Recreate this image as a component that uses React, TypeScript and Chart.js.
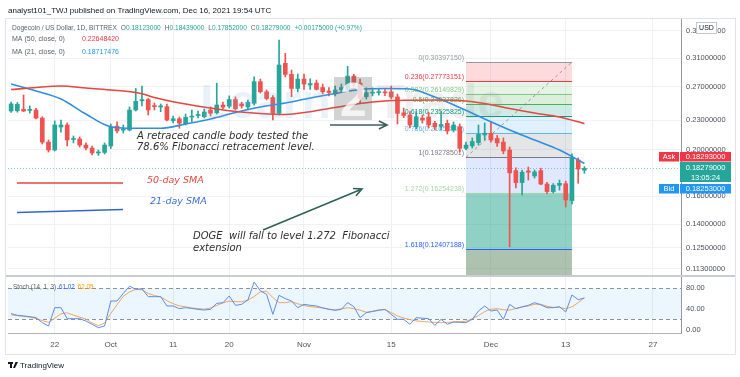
import React, { useEffect, useRef } from 'react';
import { Chart, registerables } from 'chart.js';

Chart.register(...registerables);

// ---------- categories (daily, Sep 15 – Dec 31, 2021) ----------
const MONTHS = ['Jan', 'Feb', 'Mar', 'Apr', 'May', 'Jun', 'Jul', 'Aug', 'Sep', 'Oct', 'Nov', 'Dec'];
const START_DATE = Date.UTC(2021, 8, 15);
const DAY_COUNT = 108;
const dates: string[] = Array.from({ length: DAY_COUNT }, (_, i) => {
  const d = new Date(START_DATE + i * 86400000);
  return `${MONTHS[d.getUTCMonth()]} ${d.getUTCDate()}`;
});

const xTickLabels: Record<string, string> = {
  'Sep 22': '22', 'Oct 1': 'Oct', 'Oct 11': '11', 'Oct 20': '20', 'Nov 1': 'Nov',
  'Nov 15': '15', 'Dec 1': 'Dec', 'Dec 13': '13', 'Dec 27': '27',
};

// ---------- candles (Sep 15 – Dec 16) ----------
const opens = [
  0.2406, 0.2409, 0.2426, 0.2413, 0.2417, 0.2326, 0.2073, 0.1996, 0.2228, 0.2250,
  0.2099, 0.2104, 0.2044, 0.2015, 0.1968, 0.1973, 0.2035, 0.2238, 0.2196, 0.2197,
  0.2417, 0.2526, 0.2541, 0.2462, 0.2453, 0.2456, 0.2296, 0.2318, 0.2260, 0.2337,
  0.2355, 0.2341, 0.2417, 0.2385, 0.2476, 0.2461, 0.2541, 0.2488, 0.2453, 0.2496,
  0.2768, 0.2637, 0.2566, 0.2379, 0.3022, 0.2866, 0.2680, 0.2803, 0.2724, 0.2750,
  0.2692, 0.2646, 0.2610, 0.2660, 0.2670, 0.2843, 0.2750, 0.2575, 0.2620, 0.2626,
  0.2630, 0.2636, 0.2573, 0.2385, 0.2360, 0.2231, 0.2326, 0.2338, 0.2268, 0.2237,
  0.2268, 0.2197, 0.2231, 0.2012, 0.2035, 0.2068, 0.2145, 0.2163, 0.2110, 0.2073,
  0.1996, 0.1809, 0.1708, 0.1806, 0.1763, 0.1809, 0.1696, 0.1636, 0.1686, 0.1699,
  0.1567, 0.1903, 0.18123,
];
const highs = [
  0.2512, 0.2505, 0.2597, 0.2465, 0.2436, 0.2340, 0.2094, 0.2294, 0.2304, 0.2272,
  0.2135, 0.2125, 0.2065, 0.2035, 0.1996, 0.2065, 0.2261, 0.2283, 0.2250, 0.2453,
  0.2680, 0.2710, 0.2555, 0.2500, 0.2488, 0.2488, 0.2349, 0.2338, 0.2371, 0.2417,
  0.2406, 0.2429, 0.2453, 0.2748, 0.2510, 0.2586, 0.2573, 0.2510, 0.2536, 0.2834,
  0.2803, 0.2660, 0.2590, 0.3378, 0.3170, 0.2927, 0.2872, 0.2872, 0.2807, 0.2790,
  0.2737, 0.2690, 0.2710, 0.2737, 0.2978, 0.2868, 0.2803, 0.2688, 0.2688, 0.2680,
  0.2680, 0.2710, 0.2610, 0.2440, 0.2398, 0.2398, 0.2360, 0.2390, 0.2290, 0.2398,
  0.2304, 0.2283, 0.2261, 0.2073, 0.2115, 0.2250, 0.2272, 0.2283, 0.2140, 0.2115,
  0.2025, 0.1832, 0.1814, 0.1840, 0.1814, 0.1830, 0.1710, 0.1700, 0.1729, 0.1720,
  0.1960, 0.1922, 0.18439,
];
const lows = [
  0.2390, 0.2392, 0.2398, 0.2382, 0.2317, 0.2054, 0.1977, 0.1987, 0.2175, 0.2035,
  0.2065, 0.2025, 0.1996, 0.1949, 0.1945, 0.1958, 0.2010, 0.2165, 0.2165, 0.2186,
  0.2406, 0.2465, 0.2360, 0.2417, 0.2398, 0.2294, 0.2272, 0.2215, 0.2250, 0.2287,
  0.2326, 0.2326, 0.2349, 0.2371, 0.2430, 0.2441, 0.2417, 0.2440, 0.2429, 0.2476,
  0.2622, 0.2536, 0.2304, 0.2360, 0.2832, 0.2576, 0.2637, 0.2667, 0.2667, 0.2660,
  0.2610, 0.2586, 0.2586, 0.2637, 0.2646, 0.2710, 0.2500, 0.2547, 0.2586, 0.2595,
  0.2590, 0.2547, 0.2261, 0.2330, 0.2218, 0.2208, 0.2270, 0.2218, 0.2197, 0.2197,
  0.2155, 0.2176, 0.1977, 0.1996, 0.2015, 0.2044, 0.2094, 0.2073, 0.2030, 0.1960,
  0.1256, 0.1665, 0.1610, 0.1729, 0.1745, 0.1690, 0.1620, 0.1625, 0.1648, 0.1520,
  0.1540, 0.1702, 0.17852,
];
const closes = [
  0.2488, 0.2483, 0.2406, 0.2419, 0.2326, 0.2073, 0.1996, 0.2250, 0.2250, 0.2094,
  0.2104, 0.2044, 0.2015, 0.1968, 0.1977, 0.2044, 0.2228, 0.2187, 0.2202, 0.2417,
  0.2519, 0.2541, 0.2417, 0.2457, 0.2462, 0.2304, 0.2318, 0.2270, 0.2334, 0.2344,
  0.2364, 0.2394, 0.2380, 0.2476, 0.2450, 0.2541, 0.2432, 0.2465, 0.2508, 0.2768,
  0.2637, 0.2554, 0.2379, 0.2998, 0.2866, 0.2680, 0.2803, 0.2737, 0.2744, 0.2668,
  0.2637, 0.2628, 0.2660, 0.2692, 0.2843, 0.2750, 0.2558, 0.2628, 0.2625, 0.2630,
  0.2624, 0.2573, 0.2379, 0.2355, 0.2250, 0.2341, 0.2304, 0.2250, 0.2231, 0.2255,
  0.2186, 0.2250, 0.2012, 0.2044, 0.2079, 0.2151, 0.2163, 0.2094, 0.2065, 0.1987,
  0.1789, 0.1708, 0.1795, 0.1795, 0.1797, 0.1696, 0.1636, 0.1686, 0.1702, 0.1572,
  0.1925, 0.1822, 0.18279,
];

// ---------- moving averages (read every 4th day) ----------
const maDates = [
  'Sep 15', 'Sep 19', 'Sep 23', 'Sep 27', 'Oct 1', 'Oct 5', 'Oct 9', 'Oct 13', 'Oct 17', 'Oct 21',
  'Oct 25', 'Oct 29', 'Nov 2', 'Nov 6', 'Nov 10', 'Nov 14', 'Nov 18', 'Nov 22', 'Nov 26', 'Nov 30',
  'Dec 4', 'Dec 8', 'Dec 12', 'Dec 16',
];
const ma50Values = [
  0.2666, 0.2692, 0.2711, 0.2686, 0.2660, 0.2628, 0.2548, 0.2488, 0.2441, 0.2400,
  0.2377, 0.2366, 0.2398, 0.2446, 0.2494, 0.2524, 0.2533, 0.2536, 0.2530, 0.2494,
  0.2435, 0.2383, 0.2338, 0.2264842,
];
const ma21Values = [
  0.2737, 0.2647, 0.2548, 0.2371, 0.2232, 0.2215, 0.2215, 0.2261, 0.2315, 0.2388,
  0.2452, 0.2500, 0.2560, 0.2616, 0.2667, 0.2679, 0.2673, 0.2572, 0.2446, 0.2315,
  0.2197, 0.2094, 0.1996, 0.18717476,
];

// ---------- stochastic (14, 1, 3) ----------
const stochK = [
  31, 27.6, 26.5, 25, 23.1, 13.4, 6.9, 42.4, 42.4, 21.1,
  21.1, 21.1, 16.6, 10.2, 3.7, 6.9, 55.3, 55.3, 70, 84,
  77.9, 79, 63.7, 63.7, 63.7, 45.7, 45.7, 40.5, 42.4, 41,
  39, 37.9, 39.2, 50.8, 52, 65, 46.9, 48.9, 57.3, 92,
  75, 68.2, 29.5, 66.3, 60, 55.3, 42.4, 48.9, 47, 45.7,
  42, 39.2, 37.3, 39.2, 52.1, 44.4, 23.1, 32.8, 35, 37.3,
  39.2, 29.5, 19.8, 19.8, 10.2, 23.1, 22, 21.1, 8.2, 19.8,
  10.2, 14.7, 14, 13.4, 19.8, 36, 45.7, 36, 37.9, 19.8,
  48.9, 40.5, 44, 46.9, 52.1, 48, 42.4, 42.4, 44.4, 34.1,
  67, 58, 61.02,
];
const stochD = [
  28.5, 27, 25.5, 24, 21.5, 17.5, 14, 22, 30.5, 32.5,
  28, 24, 20.5, 13, 7.5, 13, 31.5, 48, 64.5, 73,
  78, 77, 70, 66, 63.3, 56, 50, 46, 44, 41.8,
  40.8, 39.5, 41.8, 46.6, 51.8, 55, 54, 54, 57, 64,
  73, 74.5, 62, 52.1, 52.1, 54, 50, 46.5, 44.5, 43,
  41.8, 39.5, 38.3, 40, 42.3, 40.5, 37.5, 33.5, 35.5, 38.3,
  38.5, 33, 26.5, 22.5, 19.2, 17, 15.7, 14.6, 14, 13.4,
  14, 14.6, 15.5, 16.3, 21, 27, 35, 39.5, 40.4, 38.5,
  37.5, 41, 43.7, 45.8, 49, 49, 45, 43, 42.6, 40.5,
  44, 52.1, 62.05,
];

// ---------- axis ticks ----------
const priceTicks = [0.113, 0.125, 0.14, 0.16, 0.2, 0.23, 0.27, 0.31, 0.353];
const stochTicks = [0, 40, 80];
const stochBand = [20, 80];

// ---------- Fibonacci tool ----------
const fibStartDate = 'Nov 27';
const fibEndDate = 'Dec 14';
const fibLevels = [0, 0.236, 0.382, 0.5, 0.618, 0.786, 1, 1.272, 1.618];
const fibPrices = [0.3039715, 0.27773151, 0.26149829, 0.24837826, 0.23525825, 0.21657892, 0.19278501, 0.16254238, 0.12407188];
const fibLineColors = ['#9598a1', '#f23645', '#81c784', '#4caf50', '#089981', '#64b5f6', '#787b86', '#a5d6a7', '#2962ff'];
const fibFillColors = [
  'rgba(242,54,69,0.18)', 'rgba(129,199,132,0.2)', 'rgba(76,175,80,0.2)', 'rgba(8,153,129,0.2)',
  'rgba(100,181,246,0.2)', 'rgba(120,123,134,0.2)', 'rgba(41,98,255,0.15)', 'rgba(8,153,129,0.45)',
  'rgba(76,120,80,0.45)',
];

// ---------- quote ----------
const quote = { o: 0.18123, h: 0.18439, l: 0.17852, c: 0.18279, ch: 0.00175, pct: 0.97 };
const askPrice = 0.18293;
const bidPrice = 0.18253;
const countdown = '13:05:24';

const UP = '#26a69a';
const DOWN = '#ef5350';
const SANS = "'Liberation Sans', Arial, sans-serif";
const ITAL = "'DejaVu Sans', sans-serif";

function arrow(ctx: CanvasRenderingContext2D, x1: number, y1: number, x2: number, y2: number, color: string) {
  ctx.save();
  ctx.strokeStyle = color;
  ctx.lineWidth = 1.6;
  ctx.setLineDash([]);
  ctx.beginPath();
  ctx.moveTo(x1, y1);
  ctx.lineTo(x2, y2);
  const a = Math.atan2(y2 - y1, x2 - x1);
  const L = 9;
  ctx.moveTo(x2 - L * Math.cos(a - 0.45), y2 - L * Math.sin(a - 0.45));
  ctx.lineTo(x2, y2);
  ctx.lineTo(x2 - L * Math.cos(a + 0.45), y2 - L * Math.sin(a + 0.45));
  ctx.stroke();
  ctx.restore();
}

function tag(ctx: CanvasRenderingContext2D, x: number, y: number, w: number, h: number, bg: string, lines: string[]) {
  ctx.fillStyle = bg;
  ctx.fillRect(x, y, w, h);
  ctx.fillStyle = '#ffffff';
  ctx.textAlign = 'center';
  ctx.textBaseline = 'middle';
  const lh = h / lines.length;
  lines.forEach((t, k) => ctx.fillText(t, x + w / 2, y + lh * (k + 0.5) + 0.5));
}

const overlayPlugin = {
  id: 'overlay',
  beforeDraw(chart: any) {
    const { ctx } = chart;
    ctx.save();
    ctx.fillStyle = '#ffffff';
    ctx.fillRect(0, 0, chart.width, chart.height);
    ctx.restore();
  },
  beforeDatasetsDraw(chart: any) {
    const { ctx, chartArea, scales } = chart;
    const xs = scales.x, y = scales.y, ys = scales.ys;
    ctx.save();
    // stochastic band
    const b1 = ys.getPixelForValue(stochBand[1]);
    const b0 = ys.getPixelForValue(stochBand[0]);
    ctx.fillStyle = 'rgba(33,150,243,0.09)';
    ctx.fillRect(chartArea.left, b1, chartArea.right - chartArea.left, b0 - b1);
    ctx.strokeStyle = '#8d919b';
    ctx.lineWidth = 1;
    ctx.setLineDash([4, 3]);
    [b1, b0].forEach((py) => {
      ctx.beginPath();
      ctx.moveTo(chartArea.left, Math.round(py) + 0.5);
      ctx.lineTo(chartArea.right, Math.round(py) + 0.5);
      ctx.stroke();
    });
    ctx.setLineDash([]);

    // fib zones
    const xl = xs.getPixelForValue(dates.indexOf(fibStartDate));
    const xr = xs.getPixelForValue(dates.indexOf(fibEndDate));
    const levelPx = fibPrices.map((p) => y.getPixelForValue(p));
    for (let k = 0; k < fibLevels.length; k++) {
      const top = levelPx[k];
      const bot = k + 1 < fibLevels.length ? levelPx[k + 1] : y.bottom;
      ctx.fillStyle = fibFillColors[k];
      ctx.fillRect(xl, top, xr - xl, bot - top);
    }
    ctx.lineWidth = 1;
    for (let k = 0; k < fibLevels.length; k++) {
      const py = Math.round(levelPx[k]) + 0.5;
      ctx.strokeStyle = fibLineColors[k];
      ctx.beginPath();
      ctx.moveTo(xl, py);
      ctx.lineTo(xr, py);
      ctx.stroke();
      ctx.fillStyle = fibLineColors[k];
      ctx.font = `7px ${SANS}`;
      ctx.textAlign = 'right';
      ctx.textBaseline = 'bottom';
      ctx.fillText(`${fibLevels[k]}(${fibPrices[k].toFixed(8)})`, xl - 2, py - 0.5);
    }
    // fib trend line (dashed)
    ctx.strokeStyle = 'rgba(120,123,134,0.7)';
    ctx.setLineDash([3, 3]);
    ctx.beginPath();
    ctx.moveTo(xl, levelPx[6]);
    ctx.lineTo(xr, levelPx[0]);
    ctx.stroke();
    ctx.setLineDash([]);
    ctx.restore();
  },
  afterDatasetsDraw(chart: any) {
    const { ctx, chartArea, scales } = chart;
    const y = scales.y;
    ctx.save();
    // last price line
    const pc = Math.round(y.getPixelForValue(quote.c)) + 0.5;
    ctx.strokeStyle = 'rgba(38,166,154,0.55)';
    ctx.setLineDash([1, 2]);
    ctx.beginPath();
    ctx.moveTo(chartArea.left, pc);
    ctx.lineTo(chartArea.right, pc);
    ctx.stroke();
    ctx.setLineDash([]);

    // watermark
    ctx.textBaseline = 'alphabetic';
    ctx.textAlign = 'left';
    ctx.font = `bold 48px ${SANS}`;
    ctx.fillStyle = 'rgba(120,170,220,0.16)';
    ctx.fillText('Learn', 200, 118);
    ctx.fillStyle = 'rgba(110,110,110,0.3)';
    ctx.fillRect(334, 77, 38, 43);
    ctx.fillStyle = 'rgba(255,255,255,0.75)';
    ctx.fillText('2', 340, 116);
    ctx.fillStyle = 'rgba(150,150,150,0.14)';
    ctx.fillText('Trade', 376, 118);

    // annotations
    ctx.fillStyle = '#2f2f2f';
    ctx.font = `italic 10px ${ITAL}`;
    ctx.textBaseline = 'middle';
    ctx.fillText('A retraced candle body tested the', 137, 136);
    ctx.fillText('78.6% Fibonacci retracement level.', 137, 147);
    ctx.fillText('DOGE  will fall to level 1.272  Fibonacci', 193, 236);
    ctx.fillText('extension', 193, 248);
    ctx.font = `italic 9.5px ${ITAL}`;
    ctx.fillStyle = '#e0483e';
    ctx.fillText('50-day SMA', 147, 181);
    ctx.fillStyle = '#3b6fd1';
    ctx.fillText('21-day SMA', 150, 202);

    ctx.lineWidth = 1.6;
    ctx.strokeStyle = '#e8453c';
    ctx.beginPath();
    ctx.moveTo(17, 183);
    ctx.lineTo(123, 183);
    ctx.stroke();
    ctx.strokeStyle = '#3366cc';
    ctx.beginPath();
    ctx.moveTo(17, 212.5);
    ctx.lineTo(123, 209.5);
    ctx.stroke();

    arrow(ctx, 330, 125, 387, 125, '#3e605c');
    arrow(ctx, 263, 230, 362, 189, '#2f6158');
    ctx.restore();
  },
  afterDraw(chart: any) {
    const { ctx, chartArea, scales } = chart;
    const y = scales.y;
    ctx.save();
    // pane separator & frame
    ctx.fillStyle = '#c9ccd3';
    ctx.fillRect(chartArea.left - 2, y.bottom - 1, chartArea.right - chartArea.left + 56, 2);
    ctx.strokeStyle = '#e0e3eb';
    ctx.lineWidth = 1;
    ctx.strokeRect(5.5, 18.5, 730, 336);

    // header
    ctx.textAlign = 'left';
    ctx.textBaseline = 'middle';
    ctx.fillStyle = '#131722';
    ctx.font = `8px ${SANS}`;
    ctx.fillText('analyst101_TWJ published on TradingView.com, Dec 16, 2021 19:54 UTC', 8, 11);

    ctx.font = `6.6px ${SANS}`;
    let x = 12;
    const seg = (t: string, c: string, gap = 0) => {
      ctx.fillStyle = c;
      ctx.fillText(t, x, 28);
      x += ctx.measureText(t).width + gap;
    };
    seg('Dogecoin / US Dollar, 1D, BITTREX', '#5d606b', 4);
    seg('O', '#5d606b'); seg(quote.o.toFixed(8), UP, 4);
    seg('H', '#5d606b'); seg(quote.h.toFixed(8), UP, 4);
    seg('L', '#5d606b'); seg(quote.l.toFixed(8), UP, 4);
    seg('C', '#5d606b'); seg(quote.c.toFixed(8), UP, 4);
    seg(`+${quote.ch.toFixed(8)} (+${quote.pct.toFixed(2)}%)`, UP);

    ctx.font = `7px ${SANS}`;
    ctx.fillStyle = '#5d606b';
    ctx.fillText('MA (50, close, 0)', 12, 39.5);
    ctx.fillText('MA (21, close, 0)', 12, 52);
    ctx.fillStyle = '#f23645';
    ctx.fillText(ma50Values[ma50Values.length - 1].toFixed(8), 82, 39.5);
    ctx.fillStyle = '#2196f3';
    ctx.fillText(ma21Values[ma21Values.length - 1].toFixed(8), 82, 52);

    // stoch legend
    ctx.font = `6.3px ${SANS}`;
    x = 13;
    const sseg = (t: string, c: string, gap: number) => {
      ctx.fillStyle = c;
      ctx.fillText(t, x, 287);
      x += ctx.measureText(t).width + gap;
    };
    sseg('Stoch (14, 1, 3)', '#5d606b', 3);
    sseg(stochK[stochK.length - 1].toFixed(2), '#2962ff', 3);
    sseg(stochD[stochD.length - 1].toFixed(2), '#ff9800', 0);

    // USD badge
    ctx.fillStyle = '#ffffff';
    ctx.strokeStyle = '#c5c8cf';
    ctx.fillRect(696, 22, 20, 11);
    ctx.strokeRect(696.5, 22.5, 20, 11);
    ctx.fillStyle = '#131722';
    ctx.font = `7px ${SANS}`;
    ctx.textAlign = 'center';
    ctx.fillText('USD', 706.5, 28);

    // price tags
    ctx.font = `7.5px ${SANS}`;
    tag(ctx, 659, 152, 20, 9.5, '#f23645', ['Ask']);
    tag(ctx, 680, 152, 51, 9.5, '#f23645', [askPrice.toFixed(8)]);
    tag(ctx, 680, 162, 51, 20, '#26a69a', [quote.c.toFixed(8), countdown]);
    tag(ctx, 659, 184, 20, 9.5, '#2196f3', ['Bid']);
    tag(ctx, 680, 184, 51, 9.5, '#2196f3', [bidPrice.toFixed(8)]);

    // TradingView logo
    ctx.fillStyle = '#131722';
    ctx.fillRect(8, 362, 5, 2);
    ctx.fillRect(10, 362, 2, 6);
    ctx.beginPath();
    ctx.moveTo(13, 368); ctx.lineTo(15.5, 362); ctx.lineTo(18, 362); ctx.lineTo(15, 368); ctx.closePath();
    ctx.fill();
    ctx.textAlign = 'left';
    ctx.font = `8px ${SANS}`;
    ctx.fillText('TradingView', 20, 365.5);
    ctx.restore();
  },
};

export default function App() {
  const ref = useRef<HTMLCanvasElement>(null);
  useEffect(() => {
    if (!ref.current) return;
    const colors = closes.map((c, i) => (c >= opens[i] ? UP : DOWN));
    const ma50 = dates.map((d) => { const k = maDates.indexOf(d); return k >= 0 ? ma50Values[k] : null; });
    const ma21 = dates.map((d) => { const k = maDates.indexOf(d); return k >= 0 ? ma21Values[k] : null; });
    const chart = new Chart(ref.current, {
      type: 'bar',
      data: {
        labels: dates,
        datasets: [
          {
            type: 'line', label: 'MA 50', data: ma50 as any, yAxisID: 'y', borderColor: '#e8453c',
            borderWidth: 1.6, pointRadius: 0, spanGaps: true, cubicInterpolationMode: 'monotone', order: 0,
          },
          {
            type: 'line', label: 'MA 21', data: ma21 as any, yAxisID: 'y', borderColor: '#2f8fde',
            borderWidth: 1.6, pointRadius: 0, spanGaps: true, cubicInterpolationMode: 'monotone', order: 0,
          },
          {
            type: 'bar', label: 'wick', data: lows.map((l, i) => [l, highs[i]]) as any, yAxisID: 'y',
            backgroundColor: colors, barThickness: 1, grouped: false, order: 2,
          },
          {
            type: 'bar', label: 'body', data: opens.map((o, i) => [o, closes[i]]) as any, yAxisID: 'y',
            backgroundColor: colors, barThickness: 4, grouped: false, minBarLength: 1, order: 1,
          },
          {
            type: 'line', label: '%K', data: stochK, yAxisID: 'ys', borderColor: '#5b8def',
            borderWidth: 1, pointRadius: 0, order: 0,
          },
          {
            type: 'line', label: '%D', data: stochD, yAxisID: 'ys', borderColor: '#f2a65e',
            borderWidth: 1, pointRadius: 0, order: 0,
          },
        ],
      },
      options: {
        animation: false,
        responsive: false,
        maintainAspectRatio: false,
        events: [],
        layout: { padding: { top: 19, left: 8, right: 5, bottom: 24 } },
        plugins: { legend: { display: false }, tooltip: { enabled: false } },
        scales: {
          x: {
            type: 'category',
            offset: true,
            grid: {
              offset: false,
              drawTicks: false,
              color: (c: any) => (xTickLabels[dates[c.index]] ? '#eef0f4' : 'rgba(0,0,0,0)'),
            },
            border: { color: '#b2b5be' },
            ticks: {
              autoSkip: false,
              maxRotation: 0,
              padding: 7,
              color: '#4f525c',
              font: { size: 8, family: SANS },
              callback: (_v: any, i: number) => xTickLabels[dates[i]] || '',
            },
            afterFit: (s: any) => { s.height = 20; },
          },
          y: {
            type: 'logarithmic',
            position: 'right',
            stack: 'panes',
            stackWeight: 257,
            min: 0.10924,
            max: 0.3736,
            grid: { color: '#f0f2f6', drawTicks: false },
            border: { color: '#9598a1' },
            ticks: {
              padding: 5,
              color: '#4f525c',
              font: { size: 7.5, family: SANS },
              callback: (v: any) => Number(v).toFixed(8),
            },
            afterBuildTicks: (s: any) => { s.ticks = priceTicks.map((v) => ({ value: v })); },
            afterFit: (s: any) => { s.width = 54; },
          },
          ys: {
            type: 'linear',
            position: 'right',
            stack: 'panes',
            stackWeight: 57,
            min: -6.6,
            max: 103.7,
            grid: { display: false, drawTicks: false },
            border: { color: '#9598a1' },
            ticks: {
              padding: 5,
              color: '#4f525c',
              font: { size: 7.5, family: SANS },
              callback: (v: any) => Number(v).toFixed(2),
            },
            afterBuildTicks: (s: any) => { s.ticks = stochTicks.map((v) => ({ value: v })); },
            afterFit: (s: any) => { s.width = 54; },
          },
        },
      } as any,
      plugins: [overlayPlugin],
    });
    return () => chart.destroy();
  }, []);
  return (
    <div style={{ position: 'fixed', left: 0, top: 0, width: 740, height: 377, background: '#fff' }}>
      <canvas ref={ref} width={740} height={377} />
    </div>
  );
}
